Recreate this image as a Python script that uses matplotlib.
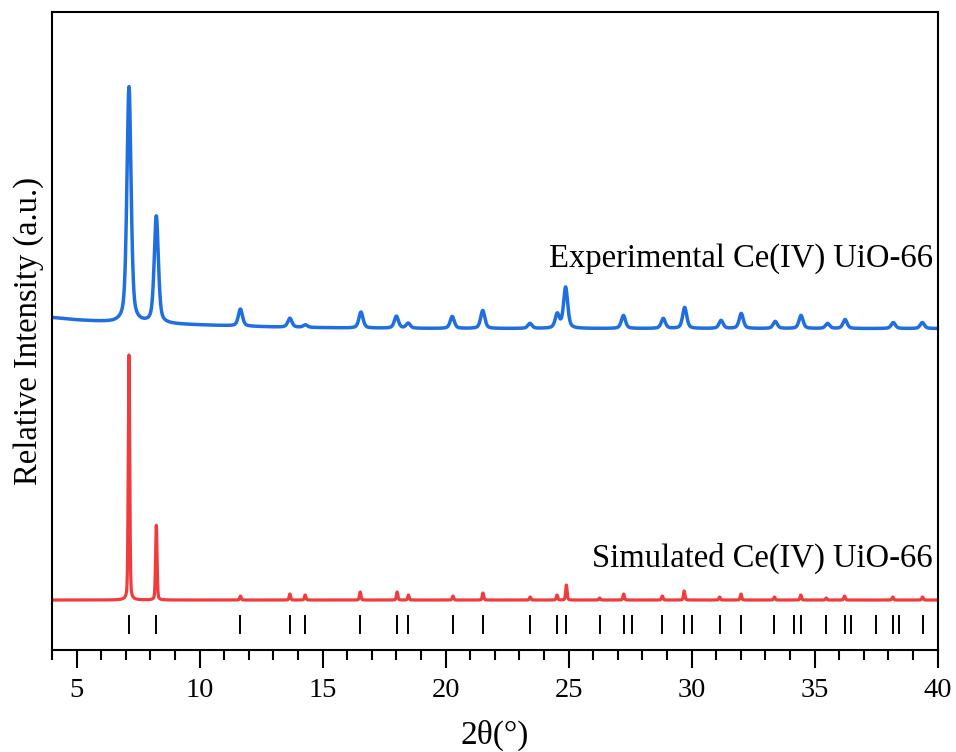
import numpy as np
import matplotlib
matplotlib.use("Agg")
import matplotlib.pyplot as plt

plt.rcParams['font.family'] = ['Liberation Serif', 'DejaVu Serif']

# experimental pattern: peak positions (2theta), heights, background anchors
exp_pos = [7.13, 8.24, 11.66, 13.67, 14.30, 16.56, 18.00, 18.48, 20.27, 21.51,
           23.43, 24.54, 24.88, 27.23, 28.85, 29.72, 31.20, 32.02, 33.40, 34.45,
           35.53, 36.24, 38.20, 39.38]
exp_h = [2.36, 1.07, 0.17, 0.09, 0.025, 0.16, 0.12, 0.05, 0.12, 0.18,
         0.05, 0.14, 0.41, 0.13, 0.10, 0.21, 0.08, 0.15, 0.07, 0.13,
         0.05, 0.09, 0.06, 0.06]
bg_x = [4, 5, 6.5, 8, 10, 13, 16, 20, 30, 40]
bg_y = [2.825, 2.80, 2.775, 2.765, 2.75, 2.73, 2.72, 2.715, 2.715, 2.715]

# simulated pattern
sim_pos = [7.13, 8.24, 11.66, 13.67, 14.29, 16.53, 18.03, 18.49, 20.30, 21.52,
           23.44, 24.53, 24.91, 26.26, 27.24, 28.81, 29.70, 31.14, 32.01, 33.37,
           34.44, 35.47, 36.22, 38.18, 39.39]
sim_h = [2.46, 0.75, 0.04, 0.06, 0.05, 0.08, 0.08, 0.05, 0.04, 0.07,
         0.03, 0.05, 0.15, 0.02, 0.06, 0.04, 0.09, 0.03, 0.06, 0.03,
         0.05, 0.02, 0.04, 0.03, 0.03]

# reflection markers
refl = [7.13, 8.24, 11.66, 13.67, 14.29, 16.53, 18.03, 18.49, 20.30, 21.52,
        23.44, 24.53, 24.91, 26.26, 27.24, 27.58, 28.81, 29.70, 30.03, 31.14,
        32.01, 33.37, 34.18, 34.44, 35.47, 36.22, 36.49, 37.48, 38.18, 38.44,
        39.39]


def profile(x, pos, h, fwhm, eta):
    y = np.zeros_like(x)
    g = fwhm / 2.0
    for p, a in zip(pos, h):
        lor = 1.0 / (1.0 + ((x - p) / g) ** 2)
        gau = np.exp(-np.log(2) * ((x - p) / g) ** 2)
        y += a * (eta * lor + (1 - eta) * gau)
    return y


x = np.linspace(4, 40, 6000)
y_exp = np.interp(x, bg_x, bg_y) + profile(x, exp_pos, exp_h, 0.2, 0.5)
y_sim = profile(x, sim_pos, sim_h, 0.07, 0.3)

fig = plt.figure(figsize=(9.56, 7.52), dpi=100)
ax = fig.add_axes([0.0544, 0.1356, 0.9263, 0.8491])

ax.plot(x, y_exp, color='#1f6fe0', lw=2.5)
ax.plot(x, y_sim, color='#f03c3c', lw=2.3)
ax.vlines(refl, -0.34, -0.15, color='black', lw=1.4)

ax.text(39.8, 3.335, 'Experimental Ce(IV) UiO-66', ha='right', va='baseline',
        fontsize=23.5)
ax.text(39.8, 0.335, 'Simulated Ce(IV) UiO-66', ha='right', va='baseline',
        fontsize=23.5)

ax.set_xlim(4, 40)
ax.set_ylim(-0.5, 5.885)
ax.set_xticks([5, 10, 15, 20, 25, 30, 35, 40])
ax.set_xticks(np.arange(4, 41, 1), minor=True)
ax.set_yticks([])
ax.tick_params(axis='x', which='major', direction='out', length=13, width=1.5,
               labelsize=20.5, pad=7)
ax.tick_params(axis='x', which='minor', direction='out', length=7, width=1.5)
for s in ax.spines.values():
    s.set_linewidth(1.5)

ax.set_xlabel('2θ(°)', fontsize=24, labelpad=12)
ax.set_ylabel('Relative Intensity (a.u.)', fontsize=23.5, labelpad=6)

fig.savefig('out.png', dpi=100)
